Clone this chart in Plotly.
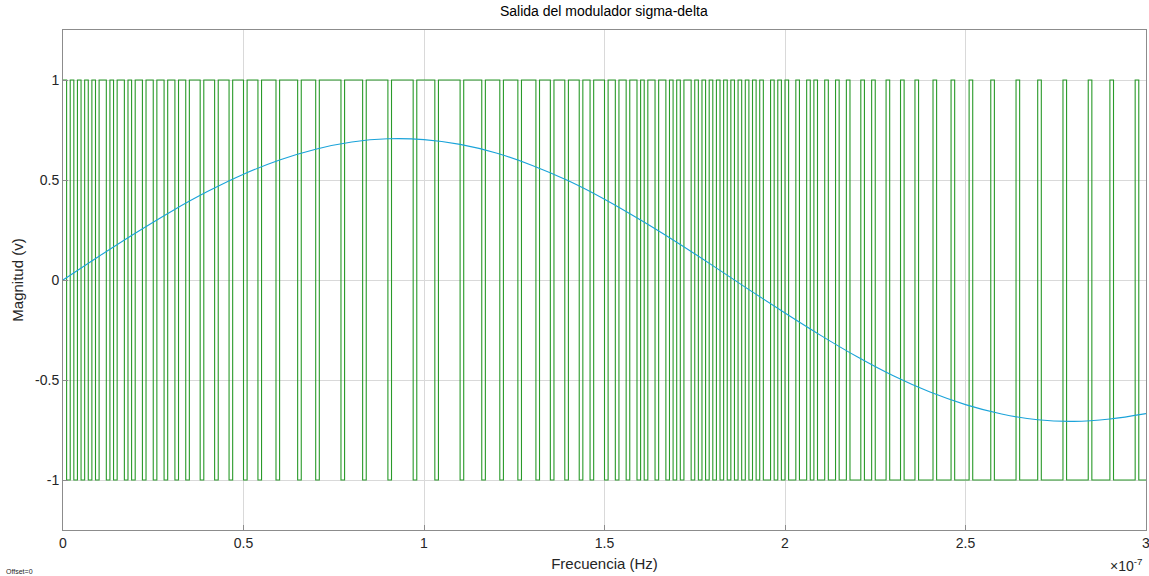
import plotly.graph_objects as go

TITLE = "Salida del modulador sigma-delta"
X_LABEL = "Frecuencia (Hz)"
Y_LABEL = "Magnitud (v)"

# modulator output, one bit per sample (1 -> +1, 0 -> -1)
SAMPLE_PERIOD = 1e-9
BITSTREAM = (
    "1010101010" "1101011010" "1101101101" "1011011101" "1101110111"
    "0111011110" "1111101111" "0111111011" "1110111111" "0111111011"
    "1110111111" "0111110111" "1011110111" "1011101110" "1110110111"
    "0110110110" "1011011010" "1011010101" "0101010101" "0101001010"
    "1001001010" "0100100100" "0100100010" "0010001000" "0100001000"
    "0100000100" "0000100000" "1000000100" "0000100000" "1000000100"
)

# analog input signal (time in units of 1e-7 s)
SINE_T = [0.0, 0.1, 0.2, 0.3, 0.4, 0.5, 0.6, 0.7, 0.8, 0.9, 1.0,
          1.1, 1.2, 1.3, 1.4, 1.5, 1.6, 1.7, 1.8, 1.9, 2.0,
          2.1, 2.2, 2.3, 2.4, 2.5, 2.6, 2.7, 2.8, 2.9, 3.0]
SINE_V = [0.0, 0.119, 0.234, 0.343, 0.442, 0.529, 0.600, 0.654, 0.690, 0.706, 0.702,
          0.678, 0.635, 0.573, 0.496, 0.404, 0.300, 0.189, 0.072, -0.048, -0.165,
          -0.278, -0.384, -0.479, -0.559, -0.623, -0.670, -0.699, -0.707, -0.695, -0.668]

X_TICKS = [0, 0.5, 1, 1.5, 2, 2.5, 3]
X_TICK_TEXT = ["0", "0.5", "1", "1.5", "2", "2.5", "3"]
Y_TICKS = [-1, -0.5, 0, 0.5, 1]
Y_TICK_TEXT = ["-1", "-0.5", "0", "0.5", "1"]

X_SCALE = 1e-7
GREEN = "#2a9a2a"
BLUE = "#1aa3d9"
FONT = "Liberation Sans, Arial, sans-serif"
TEXT = "#262626"

levels = [1 if b == "1" else -1 for b in BITSTREAM]
bit_t = [i * SAMPLE_PERIOD for i in range(len(levels) + 1)]
bit_y = levels + [levels[-1]]

fig = go.Figure()
fig.add_trace(go.Scatter(
    x=bit_t, y=bit_y, mode="lines", line=dict(color=GREEN, width=1.1, shape="hv"),
    hoverinfo="skip", showlegend=False,
))
fig.add_trace(go.Scatter(
    x=[t * X_SCALE for t in SINE_T], y=SINE_V, mode="lines",
    line=dict(color=BLUE, width=1.1, shape="spline", smoothing=1.0),
    hoverinfo="skip", showlegend=False,
))

fig.update_layout(
    width=1149, height=576,
    margin=dict(l=63, r=3, t=30, b=46),
    paper_bgcolor="white", plot_bgcolor="white",
    font=dict(family=FONT, color=TEXT, size=13),
    title=dict(text=TITLE, x=0.5255, xanchor="center", y=0.98, yanchor="middle",
               font=dict(size=14, color="black", family=FONT)),
)
fig.update_xaxes(
    range=[0, 3 * X_SCALE], automargin=False,
    tickvals=[v * X_SCALE for v in X_TICKS], ticktext=X_TICK_TEXT,
    ticklabeloverflow="allow",
    showgrid=True, gridcolor="#d9d9d9", gridwidth=1,
    showline=True, linecolor="#8c8c8c", linewidth=1, mirror=True,
    ticks="inside", ticklen=5, tickcolor="#8c8c8c",
    zeroline=False, tickfont=dict(size=14, color=TEXT),
    title=dict(text=X_LABEL, font=dict(size=15, color=TEXT), standoff=8),
)
fig.update_yaxes(
    range=[-1.25, 1.25], automargin=False,
    tickvals=Y_TICKS, ticktext=Y_TICK_TEXT,
    showgrid=True, gridcolor="#d9d9d9", gridwidth=1,
    showline=True, linecolor="#8c8c8c", linewidth=1, mirror=True,
    ticks="inside", ticklen=5, tickcolor="#8c8c8c",
    zeroline=False, tickfont=dict(size=14, color=TEXT),
    title=dict(text=Y_LABEL, font=dict(size=15, color=TEXT), standoff=7),
)
fig.add_annotation(
    text="\u00d710<sup>-7</sup>", x=0.9985, xref="paper", xanchor="right",
    y=-0.07, yref="paper", yanchor="middle", showarrow=False,
    font=dict(size=14, color=TEXT, family=FONT),
)
fig.add_annotation(
    text="Offset=0", x=-0.0543, xref="paper", xanchor="left",
    y=-0.094, yref="paper", showarrow=False,
    font=dict(size=7, color=TEXT, family=FONT),
)

fig.write_html("out.html")
